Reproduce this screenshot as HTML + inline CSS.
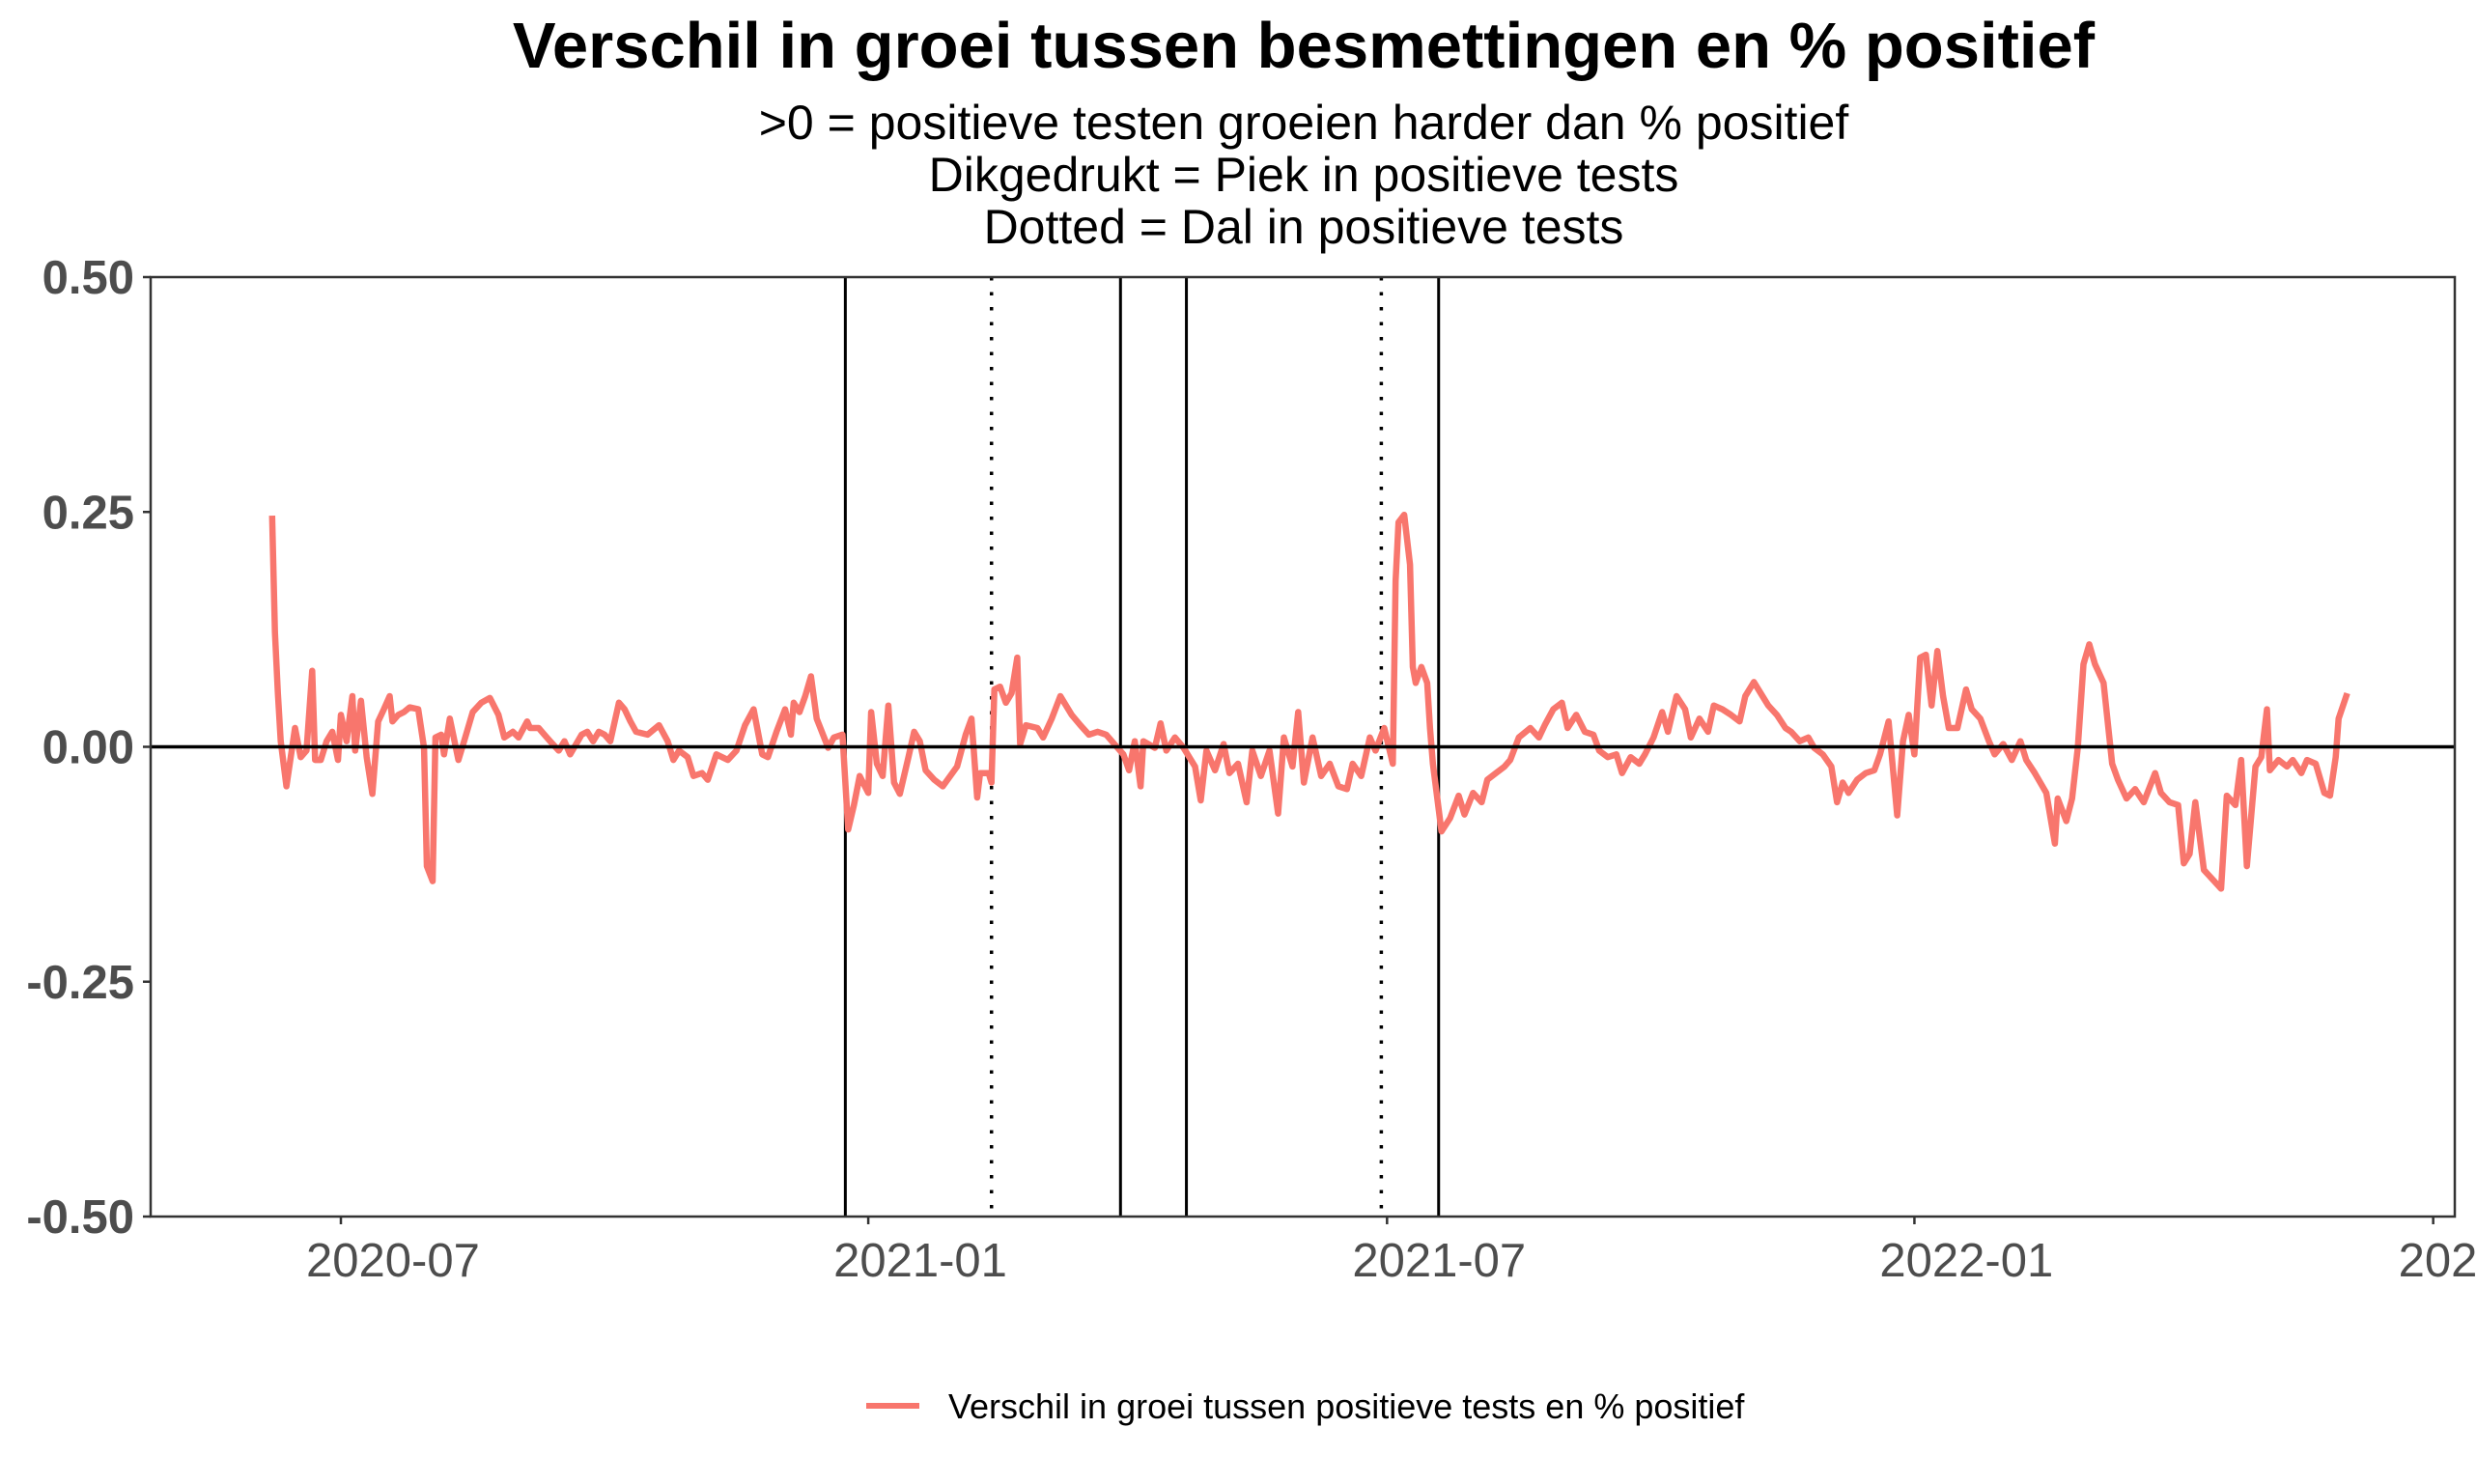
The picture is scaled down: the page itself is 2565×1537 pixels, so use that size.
<!DOCTYPE html>
<html><head><meta charset="utf-8"><style>
html,body{margin:0;padding:0;background:#fff;}
svg{display:block;font-family:"Liberation Sans",Arial,sans-serif;}
</style></head><body>
<svg id="chart" width="2565" height="1537" viewBox="0 0 2565 1537" xmlns="http://www.w3.org/2000/svg">
<rect width="2565" height="1537" fill="#fff"/>
<text x="1350" y="70" text-anchor="middle" font-size="67" font-weight="bold" fill="#000">Verschil in groei tussen besmettingen en % positief</text>
<text x="1350" y="144" text-anchor="middle" font-size="50" fill="#000">&gt;0 = positieve testen groeien harder dan % positief</text>
<text x="1350" y="198" text-anchor="middle" font-size="50" fill="#000">Dikgedrukt = Piek in positieve tests</text>
<text x="1350" y="252" text-anchor="middle" font-size="50" fill="#000">Dotted = Dal in positieve tests</text>
<g id="grid"></g>
<g id="marks"></g>
<rect x="156" y="287" width="2386" height="973" fill="none" stroke="#333" stroke-width="2.5"/>
<g id="axes"></g>
<g>
<line x1="897" y1="1456" x2="952" y2="1456" stroke="#F8766D" stroke-width="6"/>
<text x="982" y="1469" font-size="36" fill="#000">Verschil in groei tussen positieve tests en % positief</text>
</g>
</svg>
<script>
// data: day offsets from 2020-07-01 and values
const days = [-24,-23,-22,-21,-19,-16,-14,-12,-10,-9,-7,-5,-3,-1,0,2,4,5,7,9,11,13,15,17,18,20,22,24,27,29,30,32,33,35,36,38,41,43,46,49,52,55,57,60,62,65,66,69,71,73,76,78,80,84,86,88,90,92,94,97,99,101,103,107,111,114,116,118,121,123,126,128,131,135,138,141,144,147,149,152,155,157,158,160,162,164,166,170,172,175,177,179,181,184,185,187,189,191,193,195,198,200,202,204,207,210,215,218,220,222,223,226,227,228,230,232,234,236,237,239,243,245,248,251,255,258,261,264,267,271,273,275,277,279,280,284,286,288,291,294,298,300,302,305,308,310,313,316,318,321,324,327,329,332,334,336,339,342,345,348,351,353,356,359,361,364,367,368,369,371,373,374,375,377,379,380,381,384,387,390,392,395,398,400,403,406,408,411,415,418,420,423,426,428,431,434,437,439,442,445,447,450,453,455,458,461,463,466,469,471,474,477,479,482,485,488,490,493,496,498,501,504,506,509,512,514,517,520,522,524,526,529,532,535,537,540,543,545,547,549,551,553,555,557,559,561,564,567,569,572,575,577,580,583,586,588,591,595,598,599,602,604,606,608,610,612,615,618,620,623,626,629,633,635,638,641,643,645,647,650,653,656,658,661,663,665,668,670,672,673,676,679,681,684,686,689,692,694,696,697,700];
const values = [0.246,0.122,0.058,0.006,-0.042,0.020,-0.011,-0.004,0.081,-0.014,-0.014,0.006,0.016,-0.014,0.034,0.006,0.054,-0.004,0.049,-0.011,-0.050,0.027,0.040,0.054,0.027,0.034,0.037,0.042,0.040,-0.001,-0.127,-0.143,0.010,0.013,-0.008,0.030,-0.014,0.006,0.037,0.047,0.052,0.034,0.010,0.016,0.010,0.027,0.020,0.020,0.013,0.006,-0.004,0.006,-0.008,0.013,0.016,0.006,0.016,0.013,0.006,0.047,0.040,0.027,0.016,0.013,0.023,0.006,-0.014,-0.004,-0.011,-0.031,-0.028,-0.035,-0.008,-0.014,-0.004,0.023,0.040,-0.008,-0.011,0.016,0.040,0.013,0.047,0.037,0.054,0.075,0.030,-0.001,0.010,0.013,-0.088,-0.062,-0.031,-0.049,0.037,-0.018,-0.031,0.044,-0.038,-0.050,-0.011,0.016,0.006,-0.025,-0.035,-0.042,-0.021,0.013,0.030,-0.054,-0.028,-0.028,-0.038,0.061,0.064,0.047,0.057,0.095,0.003,0.023,0.020,0.010,0.030,0.054,0.034,0.023,0.013,0.016,0.013,-0.001,-0.008,-0.025,0.006,-0.042,0.006,-0.001,0.025,-0.004,0.010,-0.001,-0.021,-0.057,-0.004,-0.025,0.003,-0.028,-0.018,-0.059,-0.004,-0.031,-0.004,-0.071,0.010,-0.021,0.037,-0.038,0.010,-0.031,-0.018,-0.042,-0.045,-0.018,-0.031,0.010,-0.004,0.020,-0.018,0.177,0.239,0.247,0.194,0.085,0.068,0.085,0.068,0.020,-0.018,-0.090,-0.076,-0.052,-0.072,-0.049,-0.059,-0.035,-0.028,-0.021,-0.014,0.010,0.020,0.010,0.023,0.040,0.047,0.020,0.034,0.016,0.013,-0.004,-0.011,-0.008,-0.028,-0.011,-0.018,-0.008,0.010,0.037,0.016,0.054,0.040,0.010,0.030,0.016,0.044,0.040,0.034,0.027,0.054,0.069,0.054,0.044,0.034,0.020,0.016,0.006,0.010,-0.001,-0.008,-0.021,-0.059,-0.038,-0.049,-0.035,-0.028,-0.025,-0.008,0.027,-0.073,0.006,0.034,-0.008,0.095,0.098,0.044,0.102,0.054,0.020,0.020,0.061,0.040,0.030,0.006,-0.008,0.003,-0.014,0.006,-0.014,-0.028,-0.049,-0.103,-0.055,-0.079,-0.055,-0.001,0.088,0.109,0.088,0.068,-0.018,-0.035,-0.055,-0.045,-0.059,-0.028,-0.049,-0.059,-0.062,-0.124,-0.114,-0.059,-0.131,-0.141,-0.151,-0.052,-0.062,-0.014,-0.127,-0.021,-0.011,0.040,-0.025,-0.014,-0.021,-0.014,-0.028,-0.014,-0.018,-0.049,-0.052,-0.011,0.030,0.057];
const peakDays = [176, 272, 295, 383];
const troughDays = [227, 363];
const yTicks = [0.5, 0.25, 0, -0.25, -0.5];
const yTickLabels = ["0.50","0.25","0.00","-0.25","-0.50"];
const xTickDays = [0, 184, 365, 549, 730];
const xTickLabels = ["2020-07","2021-01","2021-07","2022-01","2022-07"];

const NS = "http://www.w3.org/2000/svg";
const L = 156, R = 2542, T = 287, B = 1260;
const x = d => 353 + d * 2.968;
const y = v => T + (0.5 - v) * (B - T);
function mk(tag, attrs, parent){const e=document.createElementNS(NS,tag);for(const k in attrs)e.setAttribute(k,attrs[k]);parent.appendChild(e);return e;}
const marks = document.getElementById('marks');
const axes = document.getElementById('axes');

peakDays.forEach(d => {
  const l = mk('line',{x1:x(d),x2:x(d),y1:T,y2:B,stroke:'#000','stroke-width':3},marks);
  
  
});
troughDays.forEach(d => {
  const l = mk('line',{x1:x(d),x2:x(d),y1:T,y2:B,stroke:'#000','stroke-width':3.5,'stroke-dasharray':'3.5 12'},marks);
  
  
});
const pts = days.map((d,i)=>x(d).toFixed(1)+','+y(values[i]).toFixed(1)).join(' ');
const line = mk('polyline',{points:pts,fill:'none',stroke:'#F8766D','stroke-width':6.5,'stroke-linejoin':'round'},marks);


const zl = mk('line',{x1:L,x2:R,y1:y(0),y2:y(0),stroke:'#000','stroke-width':3.5},marks);



yTicks.forEach((v,i)=>{
  const t = mk('line',{x1:148,x2:L,y1:y(v),y2:y(v),stroke:'#333','stroke-width':2.5},axes);
  
  
  const tx = mk('text',{x:139,y:y(v)+17,'text-anchor':'end','font-size':49,'font-weight':'bold',fill:'#4d4d4d'},axes);
  tx.textContent = yTickLabels[i];
  
  
});
xTickDays.forEach((d,i)=>{
  const t = mk('line',{x1:x(d),x2:x(d),y1:B,y2:B+8,stroke:'#333','stroke-width':2.5},axes);
  
  
  const tx = mk('text',{x:x(d)-36,y:B+62,'text-anchor':'start','font-size':49,fill:'#4d4d4d'},axes);
  tx.textContent = xTickLabels[i];
  
  
});
</script>
</body></html>
